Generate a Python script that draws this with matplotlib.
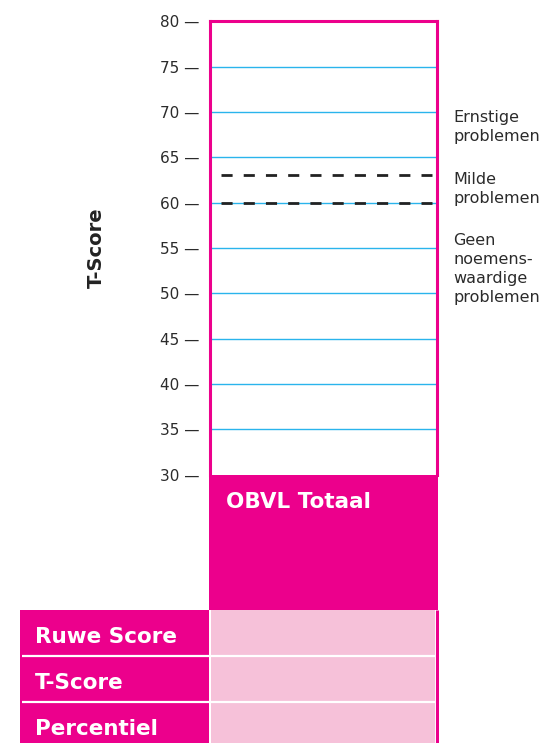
import matplotlib
matplotlib.use("Agg")
import matplotlib.pyplot as plt
from matplotlib.patches import Rectangle

# figure size in pixels (dpi 100)
W, H = 544, 743

PINK = "#EC008C"
LIGHT_PINK = "#F6C1D9"
BLUE = "#2AB4EC"
DARK = "#2b2b2b"

# ---- chart content
y_ticks = [30, 35, 40, 45, 50, 55, 60, 65, 70, 75, 80]
grid_levels = [35, 40, 45, 50, 55, 60, 65, 70, 75]
cutoffs = [63, 60]
zone_labels = ["Ernstige\nproblemen", "Milde\nproblemen",
               "Geen\nnoemens-\nwaardige\nproblemen"]
zone_label_top = [70.2, 63.4, 56.6]
scale_name = "OBVL Totaal"
row_labels = ["Ruwe Score", "T-Score", "Percentiel"]
y_title = "T-Score"

# ---- layout (pixels)
BOX_L, BOX_R = 210.0, 436.8
BOX_TOP, BOX_BOT = 21.3, 474.6
BLOCK_BOT = 610.0
ROW_H = 45.8
TABLE_L = 19.5
TEXT_BASE = 33.4


def px_rect(x0, y0, x1, y1):
    return [x0 / W, 1 - y1 / H, (x1 - x0) / W, (y1 - y0) / H]


fig = plt.figure(figsize=(W / 100, H / 100), dpi=100)

# main T-score box
ax = fig.add_axes(px_rect(BOX_L, BOX_TOP, BOX_R, BOX_BOT))
ax.set_xlim(0, 1)
ax.set_ylim(30, 80)
ax.set_xticks([])
ax.set_yticks(y_ticks)
ax.set_yticklabels([f"{v} \u2014" for v in y_ticks])
ax.tick_params(axis="y", length=0, pad=7.9, labelsize=11, labelcolor=DARK)
for side, s in ax.spines.items():
    s.set_color(PINK)
    s.set_linewidth(2.2)
ax.spines["bottom"].set_visible(False)

ax.hlines(grid_levels, 0, 1, color=BLUE, lw=1.0, zorder=1)
ax.hlines(cutoffs, 0.047, 0.98, color="#222222", lw=2.0,
          linestyles=(0, (4, 4)), zorder=2)

# zone descriptions to the right of the box
for lab, yv in zip(zone_labels, zone_label_top):
    ax.text(1.073, yv, lab, transform=ax.get_yaxis_transform(),
            ha="left", va="top", fontsize=11.5, color=DARK,
            linespacing=1.33, clip_on=False)

fig.text(96 / W, 1 - 248 / H, y_title, rotation=90, ha="center", va="center",
         fontsize=14, fontweight="bold", color="#222222")

# lower block + table
lax = fig.add_axes(px_rect(TABLE_L, BOX_BOT, 438.5, H))
lax.set_xlim(TABLE_L, 438.5)
lax.set_ylim(H, BOX_BOT)
lax.axis("off")

lax.add_patch(Rectangle((BOX_L - 1.5, BOX_BOT), 438.3 - (BOX_L - 1.5),
                        BLOCK_BOT - BOX_BOT, color=PINK, lw=0))
lax.text(226, BOX_BOT + TEXT_BASE, scale_name, color="white",
         fontsize=15.5, fontweight="bold", va="baseline", ha="left")

for i, lab in enumerate(row_labels):
    top = BLOCK_BOT + i * ROW_H
    lax.add_patch(Rectangle((TABLE_L, top), BOX_L - 1.5 - TABLE_L, ROW_H,
                            color=PINK, lw=0))
    lax.add_patch(Rectangle((BOX_L + 0.5, top), BOX_R - 1.5 - (BOX_L + 0.5),
                            ROW_H, color=LIGHT_PINK, lw=0))
    if i > 0:
        lax.hlines(top, 22, BOX_R - 1.5, color="white", lw=1.6)
    lax.text(35, top + TEXT_BASE, lab, color="white", fontsize=15.5,
             fontweight="bold", va="baseline", ha="left")

lax.vlines(BOX_R, BLOCK_BOT, H, color=PINK, lw=2.2)

fig.savefig("out.png", dpi=100)
